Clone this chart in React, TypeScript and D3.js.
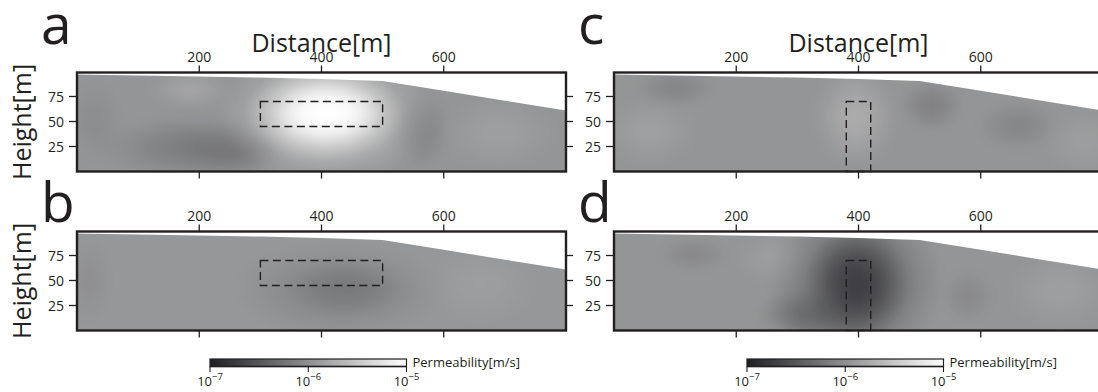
import React, { useEffect, useRef } from "react";
import * as d3 from "d3";

const W = 1098;
const H = 392;

// ground surface profile
const topoDist = [0, 100, 200, 300, 400, 500, 600, 700, 800];
const topoHeight = [97, 96, 95, 94, 92.5, 90.5, 80.7, 70.8, 61];

const xTicks = [200, 400, 600];
const yTicks = [25, 50, 75];
const cbTicks = [-7, -6, -5];

const panelNames = ["a", "b", "c", "d"];
const baseLogK = [-5.95, -5.93, -5.95, -5.95];

// anomalies: [distance, height, radius x, radius y, log10 K]
const blobsA = [
  [30, 50, 50, 45, -6.02],
  [200, 24, 170, 34, -6.18],
  [250, 20, 90, 22, -6.22],
  [560, 42, 55, 42, -6.12],
  [185, 82, 70, 20, -5.8],
  [690, 38, 100, 40, -5.86],
  [410, 56, 180, 70, -5.5],
  [405, 58, 130, 48, -5.05],
  [410, 58, 90, 30, -5.0],
];
const blobsB = [
  [660, 45, 100, 40, -5.87],
  [20, 50, 40, 45, -6.0],
  [430, 40, 180, 50, -6.1],
  [440, 42, 100, 28, -6.2],
];
const blobsC = [
  [60, 40, 80, 35, -5.85],
  [100, 84, 70, 20, -6.1],
  [520, 66, 55, 28, -6.13],
  [660, 46, 70, 26, -6.09],
  [770, 30, 70, 35, -5.87],
  [395, 55, 70, 52, -5.74],
];
const blobsD = [
  [270, 72, 80, 28, -5.86],
  [730, 40, 90, 40, -5.86],
  [130, 76, 60, 18, -6.07],
  [580, 35, 45, 28, -6.06],
  [330, 16, 100, 28, -6.32],
  [395, 48, 145, 85, -6.4],
  [398, 46, 85, 58, -6.72],
];
const panelBlobs = [blobsA, blobsB, blobsC, blobsD];

// dashed target zones: [x0, x1, y0, y1]
const boxAB = [300, 500, 45, 70];
const boxCD = [380, 420, 0, 70];
const panelBoxes = [boxAB, boxAB, boxCD, boxCD];

const ink = "#231f20";
const font = "'Open Sans', sans-serif";

export default function App() {
  const ref = useRef<SVGSVGElement | null>(null);

  useEffect(() => {
    const svg = d3.select(ref.current);
    svg.selectAll("*").remove();
    const defs = svg.append("defs");

    const color = d3
      .scaleLinear<string>()
      .domain([-7, -5])
      .range(["#1e1f22", "#ffffff"]);

    // soften the anomaly edges
    defs
      .append("filter")
      .attr("id", "soft")
      .attr("filterUnits", "userSpaceOnUse")
      .attr("x", 0)
      .attr("y", 0)
      .attr("width", W)
      .attr("height", H)
      .append("feGaussianBlur")
      .attr("stdDeviation", 5);

    const colX = [77, 614];
    const rowY = [72.5, 231.5];
    const pw = 489;
    const ph = 99;

    panelNames.forEach((name, i) => {
      const col = i < 2 ? 0 : 1;
      const row = i % 2;
      const left = colX[col];
      const top = rowY[row];
      const x = d3.scaleLinear().domain([0, 800]).range([left, left + pw]);
      const y = d3.scaleLinear().domain([0, 99]).range([top + ph, top]);
      const g = svg.append("g");

      // clip to the ground
      const topo = topoDist.map((d, k) => [d, topoHeight[k]]);
      const area = d3
        .area<number[]>()
        .x((d) => x(d[0]))
        .y0(y(0))
        .y1((d) => y(d[1]));
      defs
        .append("clipPath")
        .attr("id", "clip-" + name)
        .append("path")
        .attr("d", area(topo) as string);

      const field = g
        .append("g")
        .attr("clip-path", "url(#clip-" + name + ")")
        .append("g")
        .attr("filter", "url(#soft)");
      field
        .append("rect")
        .attr("x", left - 30)
        .attr("y", top - 30)
        .attr("width", pw + 60)
        .attr("height", ph + 60)
        .attr("fill", color(baseLogK[i]));

      panelBlobs[i].forEach((b, k) => {
        const id = "grad-" + name + k;
        const grad = defs.append("radialGradient").attr("id", id);
        const stops = [
          [0, 1],
          [0.25, 0.88],
          [0.5, 0.58],
          [0.75, 0.24],
          [1, 0],
        ];
        stops.forEach((s) => {
          grad
            .append("stop")
            .attr("offset", s[0])
            .attr("stop-color", color(b[4]))
            .attr("stop-opacity", s[1]);
        });
        field
          .append("ellipse")
          .attr("cx", x(b[0]))
          .attr("cy", y(b[1]))
          .attr("rx", x(b[2]) - x(0))
          .attr("ry", y(0) - y(b[3]))
          .attr("fill", "url(#" + id + ")");
      });

      // dashed zone
      const bx = panelBoxes[i];
      g.append("rect")
        .attr("x", x(bx[0]))
        .attr("y", y(bx[3]))
        .attr("width", x(bx[1]) - x(bx[0]))
        .attr("height", y(bx[2]) - y(bx[3]))
        .attr("fill", "none")
        .attr("stroke", ink)
        .attr("stroke-width", 1.4)
        .attr("stroke-dasharray", "8,4.5");

      // frame
      g.append("rect")
        .attr("x", left)
        .attr("y", top)
        .attr("width", pw)
        .attr("height", ph)
        .attr("fill", "none")
        .attr("stroke", ink)
        .attr("stroke-width", 2.4);

      // x ticks top + bottom
      xTicks.forEach((t) => {
        g.append("line")
          .attr("x1", x(t))
          .attr("x2", x(t))
          .attr("y1", top - 7)
          .attr("y2", top)
          .attr("stroke", ink)
          .attr("stroke-width", 1.3);
        g.append("line")
          .attr("x1", x(t))
          .attr("x2", x(t))
          .attr("y1", top + ph)
          .attr("y2", top + ph + 7)
          .attr("stroke", ink)
          .attr("stroke-width", 1.3);
        g.append("text")
          .attr("x", x(t))
          .attr("y", top - 10.5)
          .attr("text-anchor", "middle")
          .attr("font-family", font)
          .attr("font-size", 14)
          .attr("fill", ink)
          .text(t);
      });

      // y ticks left (+ right)
      yTicks.forEach((t) => {
        g.append("line")
          .attr("x1", left - 8)
          .attr("x2", left)
          .attr("y1", y(t))
          .attr("y2", y(t))
          .attr("stroke", ink)
          .attr("stroke-width", 1.3);
        g.append("line")
          .attr("x1", left + pw)
          .attr("x2", left + pw + 7)
          .attr("y1", y(t))
          .attr("y2", y(t))
          .attr("stroke", ink)
          .attr("stroke-width", 1.3);
        g.append("text")
          .attr("x", left - 13)
          .attr("y", y(t) + 5)
          .attr("text-anchor", "end")
          .attr("font-family", font)
          .attr("font-size", 14)
          .attr("fill", ink)
          .text(t);
      });

      // panel letter
      g.append("text")
        .attr("x", left - 36)
        .attr("y", row === 0 ? 44 : 222)
        .attr("font-family", font)
        .attr("font-size", 55)
        .attr("fill", ink)
        .text(name);

      if (row === 0) {
        g.append("text")
          .attr("x", x(400))
          .attr("y", 52)
          .attr("text-anchor", "middle")
          .attr("font-family", font)
          .attr("font-size", 25)
          .attr("fill", ink)
          .text("Distance[m]");
      }
      if (col === 0) {
        g.append("text")
          .attr("transform", "translate(31," + (top + ph / 2) + ") rotate(-90)")
          .attr("text-anchor", "middle")
          .attr("font-family", font)
          .attr("font-size", 25)
          .attr("fill", ink)
          .text("Height[m]");
      }
    });

    // colour bars
    const grad = defs.append("linearGradient").attr("id", "cbar");
    cbTicks.forEach((t, k) => {
      grad
        .append("stop")
        .attr("offset", k / (cbTicks.length - 1))
        .attr("stop-color", color(t));
    });
    [210, 747].forEach((x0) => {
      const cx = d3.scaleLinear().domain([-7, -5]).range([x0, x0 + 196.5]);
      const g = svg.append("g");
      g.append("rect")
        .attr("x", cx(-7))
        .attr("y", 359)
        .attr("width", cx(-5) - cx(-7))
        .attr("height", 7.5)
        .attr("fill", "url(#cbar)")
        .attr("stroke", ink)
        .attr("stroke-width", 1.2);
      g.append("line")
        .attr("x1", cx(-7))
        .attr("x2", cx(-5))
        .attr("y1", 366.5)
        .attr("y2", 366.5)
        .attr("stroke", ink)
        .attr("stroke-width", 1.6);
      cbTicks.forEach((t) => {
        g.append("line")
          .attr("x1", cx(t))
          .attr("x2", cx(t))
          .attr("y1", 366.5)
          .attr("y2", 372)
          .attr("stroke", ink)
          .attr("stroke-width", 1.1);
        const lab = g
          .append("text")
          .attr("x", cx(t))
          .attr("y", 386)
          .attr("text-anchor", "middle")
          .attr("font-family", font)
          .attr("font-size", 13)
          .attr("fill", ink);
        lab.append("tspan").text("10");
        lab
          .append("tspan")
          .attr("dy", -6)
          .attr("font-size", 9.5)
          .text("\u2212" + Math.abs(t));
      });
      g.append("text")
        .attr("x", cx(-5) + 6)
        .attr("y", 367)
        .attr("font-family", font)
        .attr("font-size", 13)
        .attr("fill", ink)
        .text("Permeability[m/s]");
    });
  }, []);

  return (
    <svg
      ref={ref}
      width={W}
      height={H}
      style={{ position: "absolute", left: 0, top: 0, background: "#fff" }}
    />
  );
}
